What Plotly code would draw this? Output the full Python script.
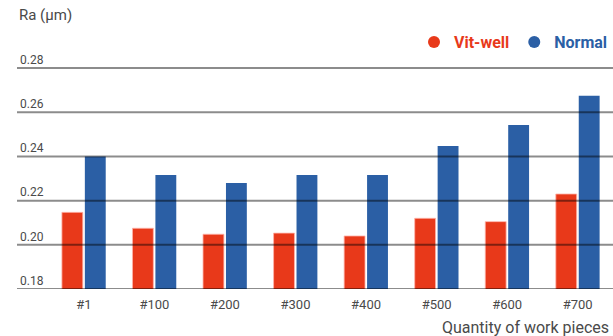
"""Bar chart of surface roughness Ra per work piece count."""

import plotly.graph_objects as go

categories = ["#1", "#100", "#200", "#300", "#400", "#500", "#600", "#700"]
vit_well = [0.2147, 0.2075, 0.2048, 0.2053, 0.2040, 0.2120, 0.2105, 0.2230]
normal = [0.2400, 0.2316, 0.2280, 0.2316, 0.2316, 0.2447, 0.2542, 0.2675]
y_ticks = [0.18, 0.20, 0.22, 0.24, 0.26, 0.28]

RED = "#E8391A"
BLUE = "#2B5FA5"
TEXT = "#4a4a4a"
FONT = "Roboto, sans-serif"

fig = go.Figure()
fig.add_trace(
    go.Bar(
        x=categories,
        y=vit_well,
        name="Vit-well",
        marker=dict(color=RED, line=dict(color="rgba(255,180,170,0.8)", width=1)),
        showlegend=False,
    )
)
fig.add_trace(
    go.Bar(
        x=categories,
        y=normal,
        name="Normal",
        marker=dict(color=BLUE, line=dict(width=0)),
        showlegend=False,
    )
)

# legend entries with round markers
for name, color in [("Vit-well", RED), ("Normal", BLUE)]:
    fig.add_trace(
        go.Scatter(
            x=[None],
            y=[None],
            mode="markers",
            marker=dict(color=color, size=12, symbol="circle"),
            name=f"<span style='color:{color}'><b>{name}</b></span>",
        )
    )

# gridlines drawn over the bars
for v in y_ticks:
    fig.add_shape(
        type="line",
        xref="paper",
        yref="y",
        x0=0,
        x1=1,
        y0=v,
        y1=v,
        line=dict(color="rgba(0,0,0,0.45)", width=2),
        layer="above",
    )

fig.update_layout(
    width=613,
    height=336,
    margin=dict(l=17, r=0, t=48, b=47, autoexpand=False),
    paper_bgcolor="white",
    plot_bgcolor="white",
    font=dict(family=FONT, color=TEXT, size=12),
    barmode="group",
    bargap=0.35,
    bargroupgap=0.09,
    legend=dict(
        orientation="h",
        x=1,
        xanchor="right",
        y=0.925,
        yref="container",
        yanchor="top",
        font=dict(size=16, family=FONT),
        itemwidth=30,
        traceorder="normal",
        bgcolor="rgba(0,0,0,0)",
    ),
    xaxis=dict(
        type="category",
        range=[-0.947, 7.5],
        showgrid=False,
        showline=False,
        ticks="",
        ticklabelstandoff=6,
        tickfont=dict(size=13, color=TEXT),
        fixedrange=True,
    ),
    yaxis=dict(
        range=[0.18, 0.2891],
        tickvals=y_ticks,
        ticktext=[f"{v:.2f}" for v in y_ticks],
        ticklabelposition="inside top",
        showgrid=False,
        zeroline=False,
        showline=False,
        ticks="",
        tickfont=dict(size=12, color=TEXT),
    ),
    annotations=[
        dict(
            text="Ra (μm)",
            xref="paper",
            yref="paper",
            x=0,
            y=1,
            xanchor="left",
            yanchor="bottom",
            yshift=22,
            showarrow=False,
            font=dict(size=15, color=TEXT, family=FONT),
        ),
        dict(
            text="Quantity of work pieces",
            xref="paper",
            yref="paper",
            x=1,
            y=0,
            xanchor="right",
            yanchor="top",
            yshift=-27,
            xshift=-2,
            showarrow=False,
            font=dict(size=16, color=TEXT, family=FONT),
        ),
    ],
)

fig.write_html(
    "out.html",
    config={"displayModeBar": False},
    post_script="document.body.style.margin='0';document.body.style.overflow='hidden';",
)
